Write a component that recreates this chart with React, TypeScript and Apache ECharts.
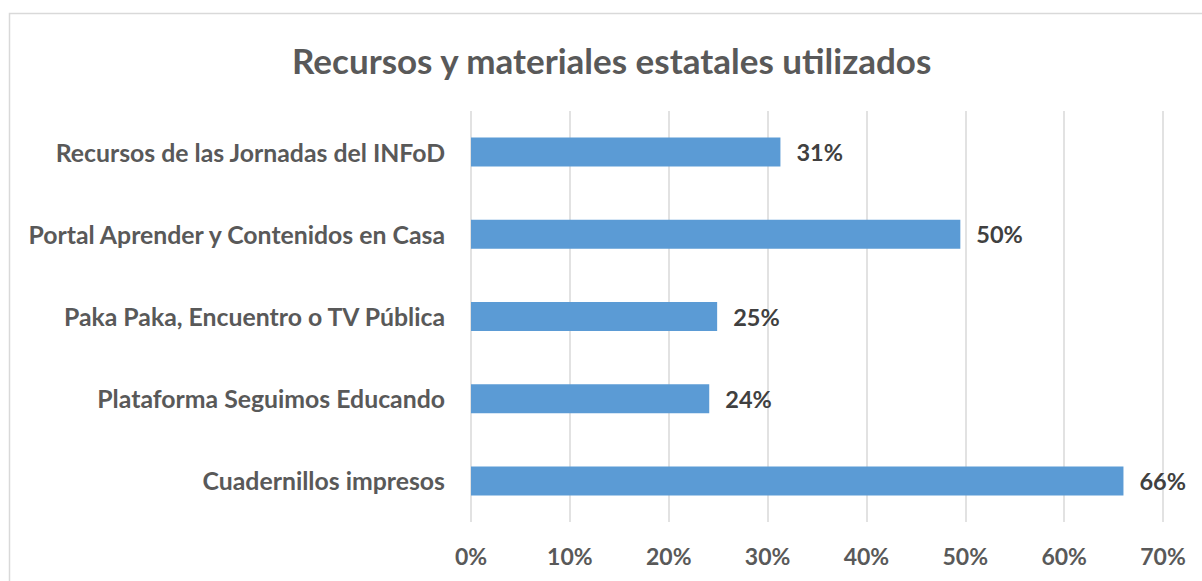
import React, { useEffect, useRef } from "react";
import * as echarts from "echarts";

const TITLE = "Recursos y materiales estatales utilizados";
const categories = [
  "Cuadernillos impresos",
  "Plataforma Seguimos Educando",
  "Paka Paka, Encuentro o TV Pública",
  "Portal Aprender y Contenidos en Casa",
  "Recursos de las Jornadas del INFoD",
];
const values = [0.66, 0.241, 0.249, 0.495, 0.313];
const valueLabels = ["66%", "24%", "25%", "50%", "31%"];
const xTicks = [0, 0.1, 0.2, 0.3, 0.4, 0.5, 0.6, 0.7];

const FONT = "Lato";

export default function App() {
  const ref = useRef<HTMLDivElement>(null);
  useEffect(() => {
    document.body.style.margin = "0";
    const chart = echarts.init(ref.current!, null, { renderer: "svg" });
    chart.setOption({
      animation: false,
      backgroundColor: "#ffffff",
      title: {
        text: TITLE,
        left: 287,
        top: 37,
        textStyle: { fontFamily: FONT, fontWeight: "bold", fontSize: 35, color: "#595959" },
      },
      graphic: [
        {
          type: "rect",
          shape: { x: 9.5, y: 13.5, width: 1220, height: 600 },
          style: { fill: "none", stroke: "#d9d9d9", lineWidth: 1.5 },
          silent: true,
        },
      ],
      grid: { left: 471, right: 39, top: 111, bottom: 59, containLabel: false },
      xAxis: {
        type: "value",
        min: 0,
        max: 0.7,
        interval: 0.1,
        axisLine: { show: false },
        axisTick: { show: false },
        splitLine: { show: true, lineStyle: { color: "#d9d9d9", width: 1.5 } },
        axisLabel: {
          margin: 22,
          fontFamily: FONT,
          fontWeight: "bold",
          fontSize: 23,
          color: "#595959",
          formatter: (v: number) => {
            const i = xTicks.findIndex((t) => Math.abs(t - v) < 1e-6);
            return i >= 0 ? Math.round(xTicks[i] * 100) + "%" : "";
          },
        },
      },
      yAxis: {
        type: "category",
        data: categories,
        axisLine: { show: false },
        axisTick: { show: false },
        axisLabel: {
          margin: 26,
          fontFamily: FONT,
          fontWeight: "bold",
          fontSize: 24.8,
          color: "#595959",
        },
      },
      series: [
        {
          type: "bar",
          data: values,
          barWidth: 29,
          itemStyle: { color: "#5b9bd5" },
          label: {
            show: true,
            position: "right",
            distance: 16,
            fontFamily: FONT,
            fontWeight: "bold",
            fontSize: 23.5,
            color: "#404040",
            formatter: (p: any) => valueLabels[p.dataIndex],
          },
        },
      ],
    });
    return () => chart.dispose();
  }, []);
  return <div ref={ref} style={{ width: 1202, height: 581 }} />;
}
